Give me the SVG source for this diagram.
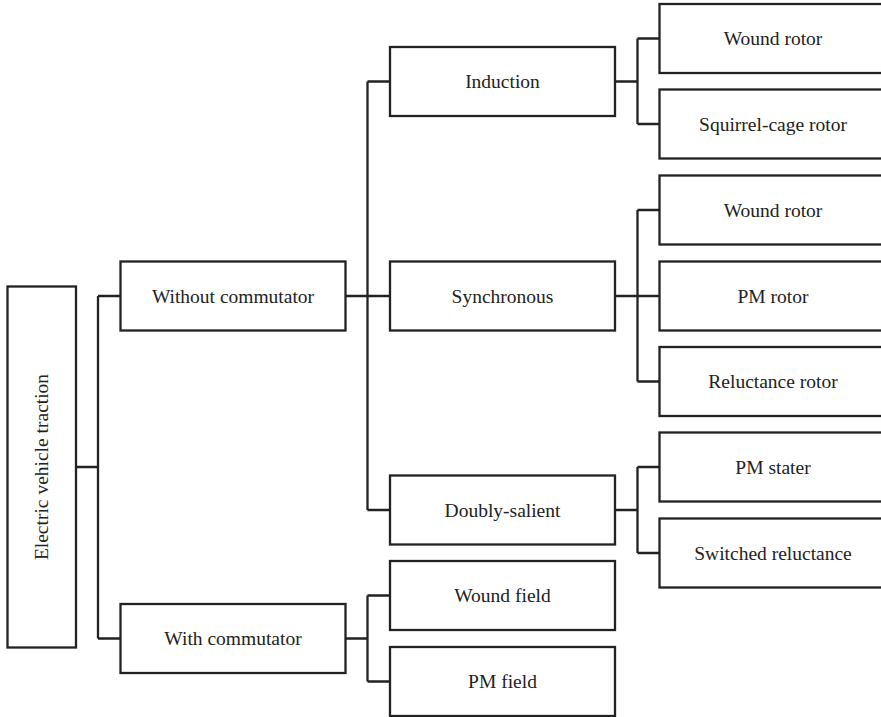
<svg xmlns="http://www.w3.org/2000/svg" width="881" height="717" viewBox="0 0 881 717">
<style>
.box{fill:#fff;stroke:#222;stroke-width:2.3}
.lbl{font-family:"Liberation Serif","Times New Roman",serif;font-size:19.5px;fill:#222;text-anchor:middle}
.conn{fill:none;stroke:#222;stroke-width:2.3}
</style>
<rect width="881" height="717" fill="#fff"/>
<g id="connectors">
<path class="conn" d="M76 467H98M98 296V638.5M98 296H120.5M98 638.5H120.5"/>
<path class="conn" d="M345.5 296H390M367.5 81.5V510M367.5 81.5H390M367.5 510H390"/>
<path class="conn" d="M345.5 638.5H367.5M367.5 595.5V681.5M367.5 595.5H390M367.5 681.5H390"/>
<path class="conn" d="M615 81.5H637.5M637.5 38.5V124M637.5 38.5H659.5M637.5 124H659.5"/>
<path class="conn" d="M615 296H659.5M637.5 210V381.5M637.5 210H659.5M637.5 381.5H659.5"/>
<path class="conn" d="M615 510H637.5M637.5 467V553M637.5 467H659.5M637.5 553H659.5"/>
</g>
<g id="root"><rect class="box" x="7.5" y="286.5" width="68.5" height="361"/><text class="lbl" transform="translate(48 467) rotate(-90)">Electric vehicle traction</text></g>
<g id="without-commutator"><rect class="box" x="120.5" y="261.5" width="225" height="69"/><text class="lbl" x="233" y="302.5">Without commutator</text></g>
<g id="with-commutator"><rect class="box" x="120.5" y="604" width="225" height="69"/><text class="lbl" x="233" y="645">With commutator</text></g>
<g id="induction"><rect class="box" x="390" y="47" width="225" height="69"/><text class="lbl" x="502.5" y="88">Induction</text></g>
<g id="synchronous"><rect class="box" x="390" y="261.5" width="225" height="69"/><text class="lbl" x="502.5" y="302.5">Synchronous</text></g>
<g id="doubly-salient"><rect class="box" x="390" y="475.5" width="225" height="69"/><text class="lbl" x="502.5" y="516.5">Doubly-salient</text></g>
<g id="wound-field"><rect class="box" x="390" y="561" width="225" height="69"/><text class="lbl" x="502.5" y="602">Wound field</text></g>
<g id="pm-field"><rect class="box" x="390" y="647" width="225" height="69"/><text class="lbl" x="502.5" y="688">PM field</text></g>
<g id="wound-rotor-1"><rect class="box" x="659.5" y="4" width="227" height="69"/><text class="lbl" x="773" y="45">Wound rotor</text></g>
<g id="squirrel-cage-rotor"><rect class="box" x="659.5" y="89.5" width="227" height="69"/><text class="lbl" x="773" y="130.5">Squirrel-cage rotor</text></g>
<g id="wound-rotor-2"><rect class="box" x="659.5" y="175.5" width="227" height="69"/><text class="lbl" x="773" y="216.5">Wound rotor</text></g>
<g id="pm-rotor"><rect class="box" x="659.5" y="261.5" width="227" height="69"/><text class="lbl" x="773" y="302.5">PM rotor</text></g>
<g id="reluctance-rotor"><rect class="box" x="659.5" y="347" width="227" height="69"/><text class="lbl" x="773" y="388">Reluctance rotor</text></g>
<g id="pm-stater"><rect class="box" x="659.5" y="432.5" width="227" height="69"/><text class="lbl" x="773" y="473.5">PM stater</text></g>
<g id="switched-reluctance"><rect class="box" x="659.5" y="518.5" width="227" height="69"/><text class="lbl" x="773" y="559.5">Switched reluctance</text></g>
</svg>
